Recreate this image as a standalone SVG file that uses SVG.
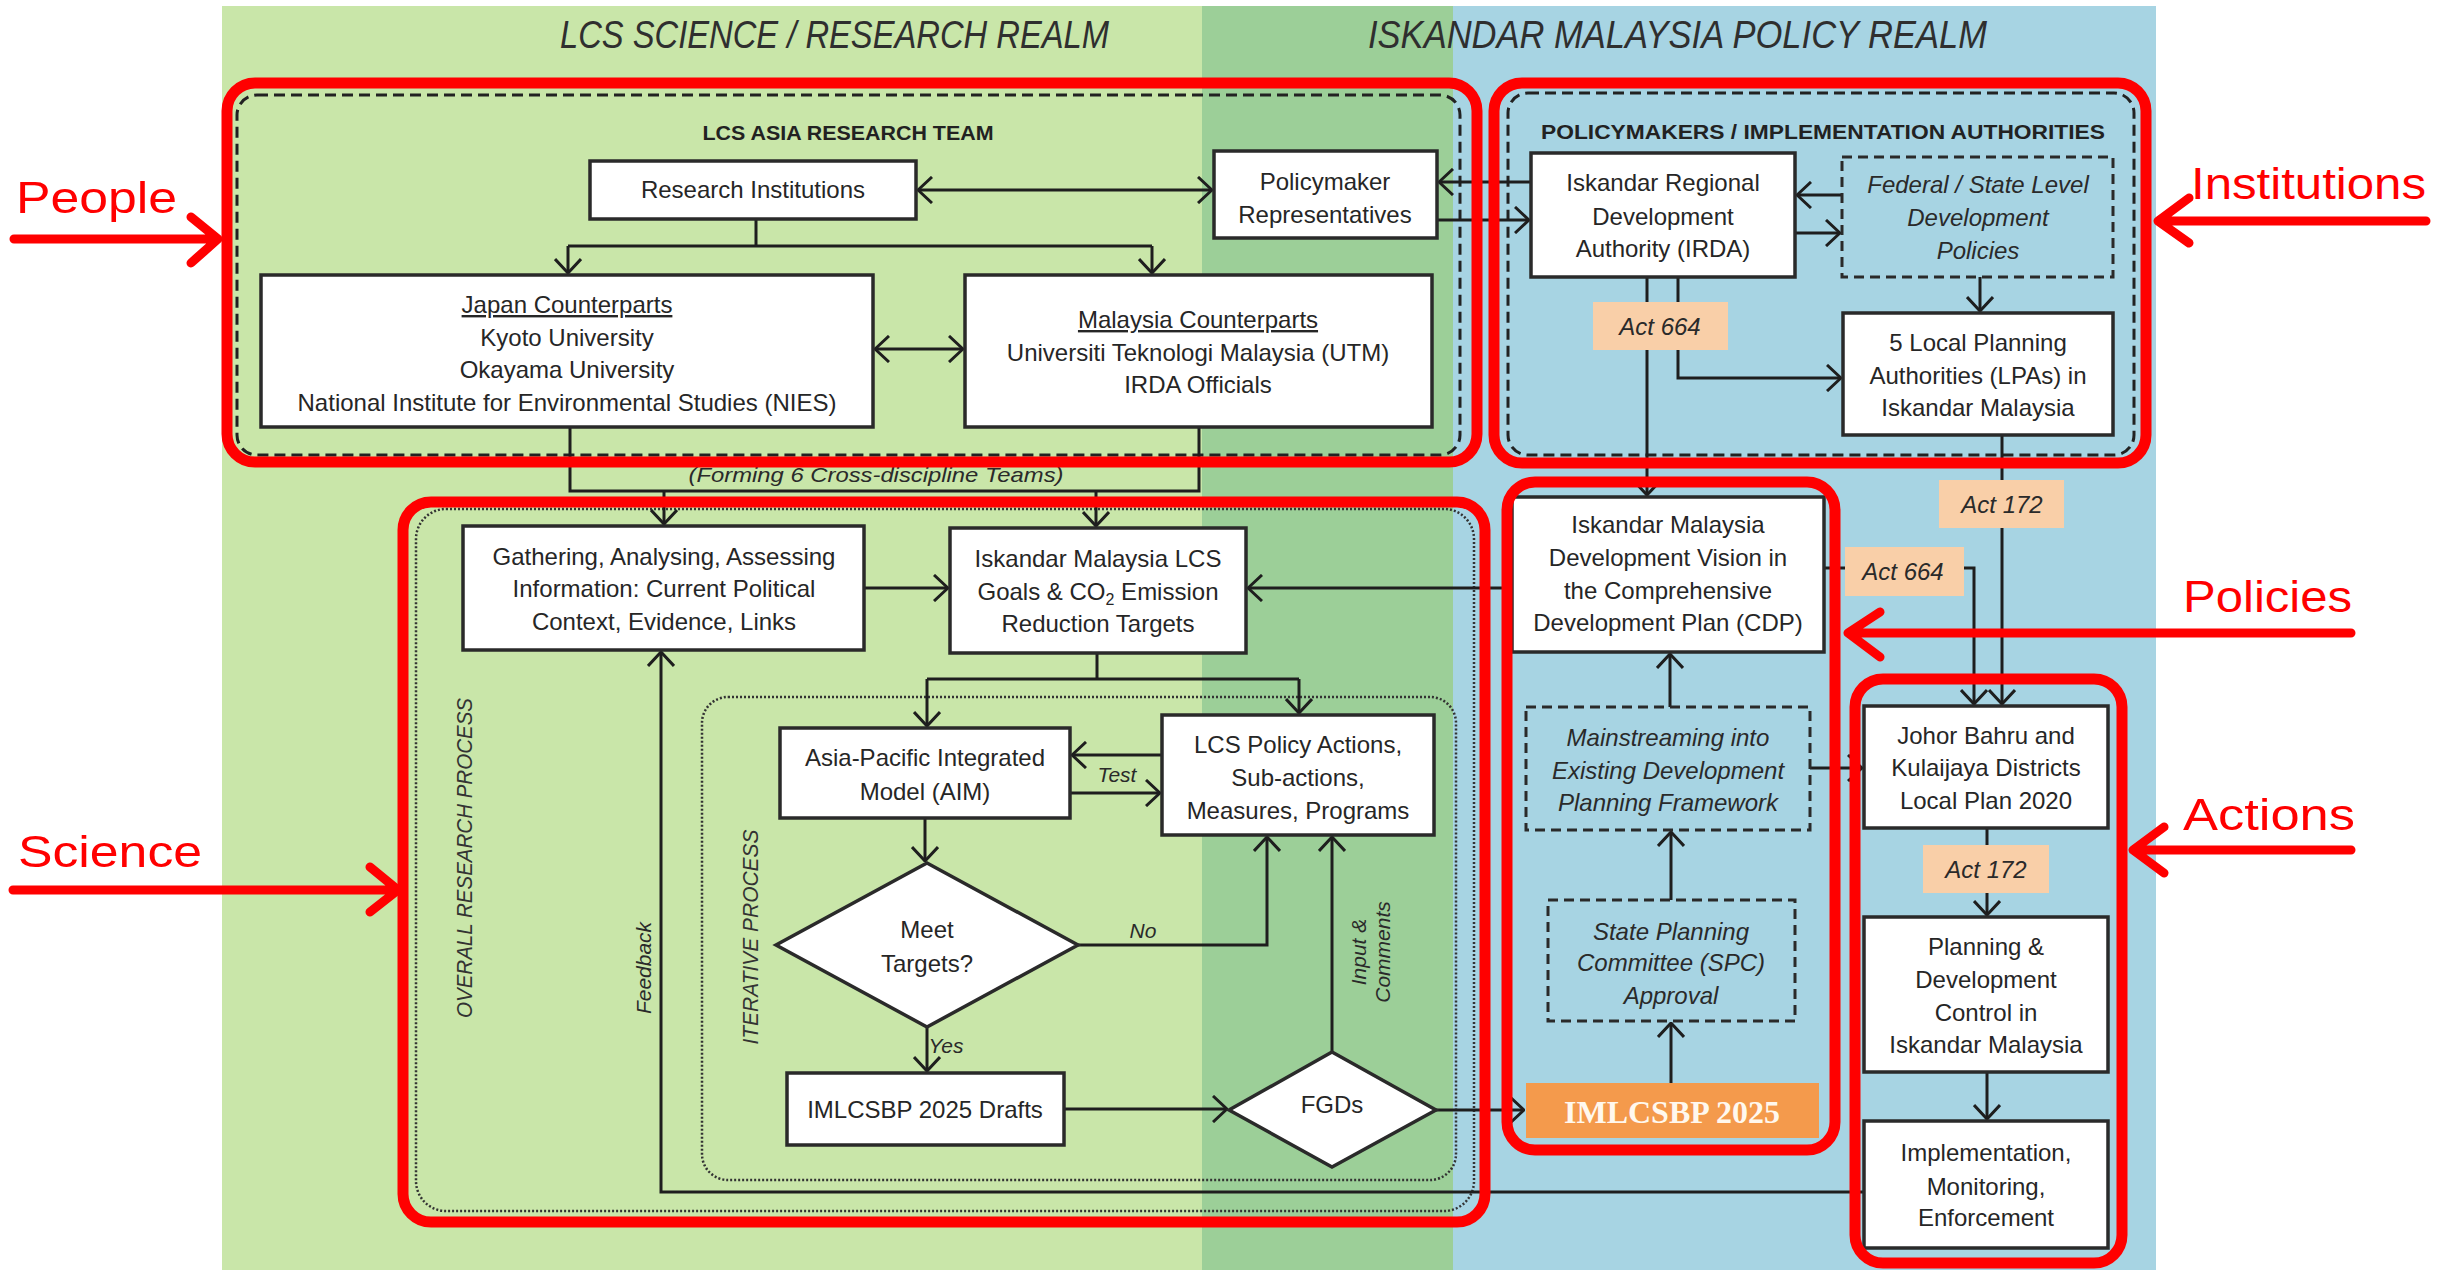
<svg xmlns="http://www.w3.org/2000/svg" width="2440" height="1270" viewBox="0 0 2440 1270">
<defs>
<marker id="ah" viewBox="0 0 16 28" refX="15" refY="14" markerWidth="16" markerHeight="28" markerUnits="userSpaceOnUse" orient="auto-start-reverse">
<path d="M1,1 L15,14 L1,27" fill="none" stroke="#1e1e1e" stroke-width="3"/>
</marker>
<style>
.bg1{fill:#c9e6a9}.bg2{fill:#9ccf98}.bg3{fill:#a7d4e3}
.title{font-family:"Liberation Sans",Arial,sans-serif;font-style:italic;font-size:38px;fill:#2f2f2f}
.hdr{font-family:"Liberation Sans",Arial,sans-serif;font-weight:bold;font-size:21px;fill:#222}
.grp{fill:none;stroke:#222;stroke-width:3;stroke-dasharray:11 6}
.dot{fill:none;stroke:#333;stroke-width:2.5;stroke-dasharray:2 2}
.box{fill:#fff;stroke:#2a2a2a;stroke-width:3.5}
.dbox{fill:none;stroke:#2a2a2a;stroke-width:3;stroke-dasharray:10 6}
.t{font-family:"Liberation Sans",Arial,sans-serif;font-size:24px;fill:#262626;text-anchor:middle}
.ti{font-family:"Liberation Sans",Arial,sans-serif;font-size:24px;font-style:italic;fill:#2a2a2a;text-anchor:middle}
.lbl{font-family:"Liberation Sans",Arial,sans-serif;font-size:21px;font-style:italic;fill:#2a2a2a;text-anchor:middle}
.vlbl{font-family:"Liberation Sans",Arial,sans-serif;font-size:22px;font-style:italic;fill:#333;text-anchor:middle}
.act{fill:#f9cfa8}
.ln{fill:none;stroke:#1e1e1e;stroke-width:3}
.arr{fill:none;stroke:#1e1e1e;stroke-width:3;marker-end:url(#ah)}
.darr{fill:none;stroke:#1e1e1e;stroke-width:3;marker-end:url(#ah);marker-start:url(#ah)}
.red{fill:none;stroke:#ff0000;stroke-width:11}
.redl{fill:none;stroke:#ff0000;stroke-width:9;stroke-linecap:round;stroke-linejoin:round}
.rtxt{font-family:"Liberation Sans",Arial,sans-serif;font-size:45px;fill:#ff0000}
</style>
</defs>

<g id="background">
<rect class="bg1" x="222" y="6" width="980" height="1264"/>
<rect class="bg2" x="1202" y="6" width="251" height="1264"/>
<rect class="bg3" x="1453" y="6" width="703" height="1264"/>
<text class="title" x="560" y="48" textLength="549" lengthAdjust="spacingAndGlyphs">LCS SCIENCE / RESEARCH REALM</text>
<text class="title" x="1368" y="48" textLength="619" lengthAdjust="spacingAndGlyphs">ISKANDAR MALAYSIA POLICY REALM</text>
</g>

<g id="groups">
<rect id="lcs-asia-team" class="grp" x="237" y="95" width="1223" height="360" rx="20"/>
<text class="hdr" x="848" y="140" text-anchor="middle" textLength="291" lengthAdjust="spacingAndGlyphs">LCS ASIA RESEARCH TEAM</text>
<rect id="policymakers-group" class="grp" x="1508" y="93" width="626" height="362" rx="20"/>
<text class="hdr" x="1823" y="139" text-anchor="middle" textLength="564" lengthAdjust="spacingAndGlyphs">POLICYMAKERS / IMPLEMENTATION AUTHORITIES</text>
<rect id="overall-process" class="dot" x="416" y="509" width="1058" height="702" rx="30"/>
<text class="vlbl" transform="translate(472,858) rotate(-90)" textLength="320" lengthAdjust="spacingAndGlyphs">OVERALL RESEARCH PROCESS</text>
<rect id="iterative-process" class="dot" x="702" y="697" width="754" height="483" rx="26"/>
<text class="vlbl" transform="translate(758,937) rotate(-90)" textLength="215" lengthAdjust="spacingAndGlyphs">ITERATIVE PROCESS</text>
</g>

<g id="connectors">
<path class="darr" d="M918,190 H1212"/>
<path class="ln" d="M756,219 V246 M568,246 H1152"/>
<path class="arr" d="M568,246 V273"/>
<path class="arr" d="M1152,246 V273"/>
<path class="darr" d="M875,349 H963"/>
<path class="ln" d="M570,427 V491 H1199 V427"/>
<path class="arr" d="M664,491 V524"/>
<path class="arr" d="M1096,491 V526"/>
<text class="lbl" x="876" y="482" font-size="23" textLength="375" lengthAdjust="spacingAndGlyphs">(Forming 6 Cross-discipline Teams)</text>
<path class="arr" d="M864,588 H948"/>
<path class="arr" d="M1512,588 H1248"/>
<path class="ln" d="M1097,653 V679 M927,679 H1299"/>
<path class="arr" d="M927,679 V726"/>
<path class="arr" d="M1299,679 V713"/>
<path class="arr" d="M1162,755 H1072"/>
<path class="arr" d="M1070,793 H1160"/>
<text class="lbl" x="1117" y="782">Test</text>
<path class="arr" d="M925,818 V861"/>
<path class="arr" d="M1078,945 H1267 V837"/>
<text class="lbl" x="1143" y="938">No</text>
<path class="arr" d="M927,1027 V1071"/>
<text class="lbl" x="946" y="1053" font-size="20">Yes</text>
<path class="arr" d="M1064,1109 H1227"/>
<path class="arr" d="M1332,1052 V837"/>
<text class="lbl" transform="translate(1366,952) rotate(-90)">Input &amp;</text>
<text class="lbl" transform="translate(1390,952) rotate(-90)">Comments</text>
<path class="arr" d="M1436,1110 H1524"/>
<path class="arr" d="M1864,1192 H661 V652"/>
<text class="lbl" transform="translate(651,968) rotate(-90)" font-size="20">Feedback</text>
<path class="arr" d="M1531,182 H1439"/>
<path class="arr" d="M1437,220 H1529"/>
<path class="arr" d="M1842,195 H1797"/>
<path class="arr" d="M1795,233 H1840"/>
<path class="arr" d="M1980,277 V311"/>
<path class="arr" d="M1647,277 V495"/>
<path class="arr" d="M1678,277 V378 H1841"/>
<path class="arr" d="M2002,435 V704"/>
<path class="arr" d="M1824,568 H1974 V704"/>
<path class="arr" d="M1670,707 V654"/>
<path class="arr" d="M1810,768 H1862"/>
<path class="arr" d="M1671,900 V832"/>
<path class="arr" d="M1671,1083 V1023"/>
<path class="arr" d="M1987,828 V915"/>
<path class="arr" d="M1987,1072 V1119"/>
</g>

<g id="act-labels">
<g id="act664-a"><rect class="act" x="1593" y="302" width="135" height="48"/><text class="ti" x="1660" y="335">Act 664</text></g>
<g id="act172-a"><rect class="act" x="1939" y="480" width="125" height="48"/><text class="ti" x="2002" y="513">Act 172</text></g>
<g id="act664-b"><rect class="act" x="1845" y="547" width="119" height="49"/><text class="ti" x="1903" y="580">Act 664</text></g>
<g id="act172-b"><rect class="act" x="1923" y="845" width="126" height="48"/><text class="ti" x="1986" y="878">Act 172</text></g>
</g>

<g id="research-institutions"><rect class="box" x="590" y="161" width="326" height="58"/><text class="t" x="753" y="198">Research Institutions</text></g>
<g id="policymaker-reps"><rect class="box" x="1214" y="151" width="223" height="87"/><text class="t" x="1325" y="190">Policymaker</text><text class="t" x="1325" y="223">Representatives</text></g>
<g id="japan"><rect class="box" x="261" y="275" width="612" height="152"/>
<text class="t" x="567" y="313" text-decoration="underline">Japan Counterparts</text>
<text class="t" x="567" y="346">Kyoto University</text>
<text class="t" x="567" y="378">Okayama University</text>
<text class="t" x="567" y="411">National Institute for Environmental Studies (NIES)</text></g>
<g id="malaysia"><rect class="box" x="965" y="275" width="467" height="152"/>
<text class="t" x="1198" y="328" text-decoration="underline">Malaysia Counterparts</text>
<text class="t" x="1198" y="361">Universiti Teknologi Malaysia (UTM)</text>
<text class="t" x="1198" y="393">IRDA Officials</text></g>
<g id="irda"><rect class="box" x="1531" y="153" width="264" height="124"/>
<text class="t" x="1663" y="191">Iskandar Regional</text><text class="t" x="1663" y="225">Development</text><text class="t" x="1663" y="257">Authority (IRDA)</text></g>
<g id="federal"><rect class="dbox" x="1842" y="157" width="271" height="120"/>
<text class="ti" x="1978" y="193">Federal / State Level</text><text class="ti" x="1978" y="226">Development</text><text class="ti" x="1978" y="259">Policies</text></g>
<g id="lpas"><rect class="box" x="1843" y="313" width="270" height="122"/>
<text class="t" x="1978" y="351">5 Local Planning</text><text class="t" x="1978" y="384">Authorities (LPAs) in</text><text class="t" x="1978" y="416">Iskandar Malaysia</text></g>
<g id="gathering"><rect class="box" x="463" y="526" width="401" height="124"/>
<text class="t" x="664" y="565">Gathering, Analysing, Assessing</text><text class="t" x="664" y="597">Information: Current Political</text><text class="t" x="664" y="630">Context, Evidence, Links</text></g>
<g id="goals"><rect class="box" x="950" y="528" width="296" height="125"/>
<text class="t" x="1098" y="567">Iskandar Malaysia LCS</text><text class="t" x="1098" y="600">Goals &amp; CO<tspan font-size="16" dy="5">2</tspan><tspan dy="-5"> Emission</tspan></text><text class="t" x="1098" y="632">Reduction Targets</text></g>
<g id="aim"><rect class="box" x="780" y="728" width="290" height="90"/>
<text class="t" x="925" y="766">Asia-Pacific Integrated</text><text class="t" x="925" y="800">Model (AIM)</text></g>
<g id="lcs-actions"><rect class="box" x="1162" y="715" width="272" height="120"/>
<text class="t" x="1298" y="753">LCS Policy Actions,</text><text class="t" x="1298" y="786">Sub-actions,</text><text class="t" x="1298" y="819">Measures, Programs</text></g>
<g id="meet-targets"><path class="box" d="M927,863 L1078,945 L927,1027 L776,945 Z"/>
<text class="t" x="927" y="938">Meet</text><text class="t" x="927" y="972">Targets?</text></g>
<g id="drafts"><rect class="box" x="787" y="1073" width="277" height="72"/><text class="t" x="925" y="1118">IMLCSBP 2025 Drafts</text></g>
<g id="fgds"><path class="box" d="M1332,1052 L1436,1110 L1332,1167 L1229,1110 Z"/><text class="t" x="1332" y="1113">FGDs</text></g>
<g id="cdp"><rect class="box" x="1512" y="497" width="312" height="155"/>
<text class="t" x="1668" y="533">Iskandar Malaysia</text><text class="t" x="1668" y="566">Development Vision in</text><text class="t" x="1668" y="599">the Comprehensive</text><text class="t" x="1668" y="631">Development Plan (CDP)</text></g>
<g id="mainstreaming"><rect class="dbox" x="1526" y="707" width="284" height="123"/>
<text class="ti" x="1668" y="746">Mainstreaming into</text><text class="ti" x="1668" y="779">Existing Development</text><text class="ti" x="1668" y="811">Planning Framework</text></g>
<g id="spc"><rect class="dbox" x="1548" y="900" width="247" height="121"/>
<text class="ti" x="1671" y="940">State Planning</text><text class="ti" x="1671" y="971">Committee (SPC)</text><text class="ti" x="1671" y="1004">Approval</text></g>
<g id="imlcsbp"><rect x="1526" y="1083" width="293" height="55" fill="#f49a4c"/>
<text x="1672" y="1123" text-anchor="middle" font-family="'Liberation Serif','Times New Roman',serif" font-weight="bold" font-size="32" fill="#fff8ee">IMLCSBP 2025</text></g>
<g id="johor"><rect class="box" x="1864" y="706" width="244" height="122"/>
<text class="t" x="1986" y="744">Johor Bahru and</text><text class="t" x="1986" y="776">Kulaijaya Districts</text><text class="t" x="1986" y="809">Local Plan 2020</text></g>
<g id="planning"><rect class="box" x="1864" y="917" width="244" height="155"/>
<text class="t" x="1986" y="955">Planning &amp;</text><text class="t" x="1986" y="988">Development</text><text class="t" x="1986" y="1021">Control in</text><text class="t" x="1986" y="1053">Iskandar Malaysia</text></g>
<g id="implementation"><rect class="box" x="1864" y="1121" width="244" height="127"/>
<text class="t" x="1986" y="1161">Implementation,</text><text class="t" x="1986" y="1195">Monitoring,</text><text class="t" x="1986" y="1226">Enforcement</text></g>

<g id="annotations">
<rect class="red" x="227" y="83" width="1250" height="379" rx="28"/>
<rect class="red" x="1494" y="83" width="652" height="380" rx="28"/>
<rect class="red" x="403" y="502" width="1082" height="720" rx="28"/>
<rect class="red" x="1507" y="482" width="328" height="668" rx="28"/>
<rect class="red" x="1855" y="679" width="267" height="584" rx="28"/>
<text class="rtxt" x="16" y="213" textLength="161" lengthAdjust="spacingAndGlyphs">People</text>
<path class="redl" d="M14,239 H214 M191,217 L218,239 L191,263"/>
<text class="rtxt" x="2191" y="199" textLength="235" lengthAdjust="spacingAndGlyphs">Institutions</text>
<path class="redl" d="M2426,221 H2162 M2189,198 L2158,221 L2189,243"/>
<text class="rtxt" x="2183" y="612" textLength="169" lengthAdjust="spacingAndGlyphs">Policies</text>
<path class="redl" d="M2351,633 H1852 M1880,612 L1848,633 L1880,657"/>
<text class="rtxt" x="2183" y="830" textLength="172" lengthAdjust="spacingAndGlyphs">Actions</text>
<path class="redl" d="M2351,850 H2137 M2164,827 L2133,850 L2164,873"/>
<text class="rtxt" x="18" y="867" textLength="184" lengthAdjust="spacingAndGlyphs">Science</text>
<path class="redl" d="M13,890 H394 M370,867 L398,890 L370,912"/>
</g>
</svg>
